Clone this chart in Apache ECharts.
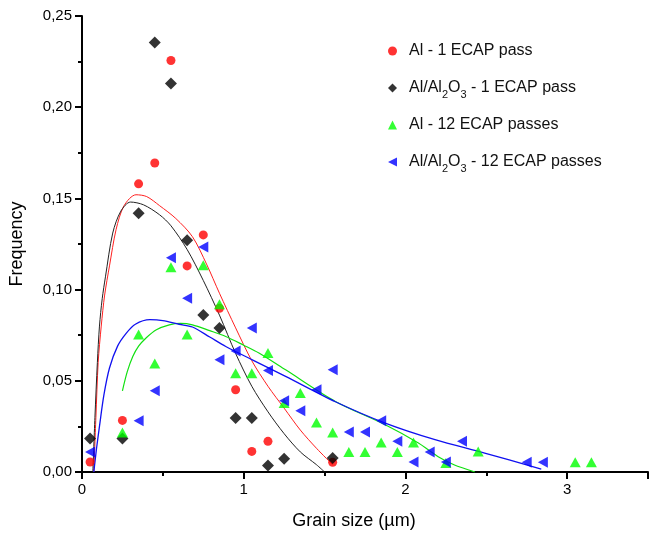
<!DOCTYPE html>
<html>
<head>
<meta charset="utf-8">
<script src="https://cdn.jsdelivr.net/npm/echarts@6/dist/echarts.min.js"></script>
<style>
html,body{margin:0;padding:0;background:#fff;}
#chart{width:651px;height:536px;}
</style>
</head>
<body>
<div id="chart"></div>
<script>
// ---- Data ----
var seriesNames = ['Al - 1 ECAP pass', 'Al/Al2O3 - 1 ECAP pass', 'Al - 12 ECAP passes', 'Al/Al2O3 - 12 ECAP passes'];

var alOnePass = [[0.05,0.0055],[0.25,0.0283],[0.35,0.158],[0.45,0.1694],[0.55,0.2256],[0.65,0.113],[0.75,0.130],[0.85,0.0898],[0.95,0.0451],[1.05,0.0113],[1.15,0.0168],[1.55,0.0053]];
var compositeOnePass = [[0.05,0.0184],[0.25,0.0184],[0.35,0.1418],[0.45,0.2355],[0.55,0.213],[0.65,0.127],[0.75,0.0861],[0.85,0.079],[0.95,0.0296],[1.05,0.0296],[1.15,0.0036],[1.25,0.0073],[1.55,0.0077]];
var alTwelvePasses = [[0.25,0.0217],[0.35,0.0754],[0.45,0.0595],[0.55,0.1123],[0.65,0.0754],[0.75,0.1134],[0.85,0.092],[0.95,0.0542],[1.05,0.0542],[1.15,0.0652],[1.25,0.0378],[1.35,0.0433],[1.45,0.0272],[1.55,0.0217],[1.65,0.011],[1.75,0.011],[1.85,0.0162],[1.95,0.011],[2.05,0.0162],[2.25,0.005],[2.45,0.0113],[3.05,0.0053],[3.15,0.0053]];
var compositeTwelvePasses = [[0.05,0.011],[0.35,0.0281],[0.45,0.0445],[0.55,0.1175],[0.65,0.0953],[0.75,0.1234],[0.85,0.0615],[0.95,0.0664],[1.05,0.0789],[1.15,0.0556],[1.25,0.039],[1.35,0.0336],[1.45,0.0451],[1.55,0.056],[1.65,0.0219],[1.75,0.0219],[1.85,0.0281],[1.95,0.0168],[2.05,0.0055],[2.15,0.011],[2.25,0.0055],[2.35,0.0168],[2.75,0.0053],[2.85,0.0053]];

// fitted curves
var fitAlOnePass = [[0.073,0],[0.086,0.03],[0.1,0.06],[0.119,0.08],[0.14,0.097],[0.17,0.113],[0.211,0.133],[0.26,0.146],[0.334,0.152],[0.4,0.151],[0.48,0.146],[0.58,0.139],[0.683,0.129],[0.77,0.114],[0.85,0.098],[0.95,0.079],[1.05,0.061],[1.15,0.047],[1.25,0.035],[1.35,0.023],[1.45,0.013],[1.55,0.004]];
var fitCompositeOnePass = [[0.067,0],[0.08,0.03],[0.095,0.06],[0.108,0.08],[0.125,0.095],[0.145,0.107],[0.19,0.131],[0.24,0.143],[0.3,0.148],[0.38,0.1465],[0.48,0.141],[0.55,0.135],[0.65,0.122],[0.75,0.105],[0.85,0.086],[0.95,0.065],[1.05,0.047],[1.15,0.033],[1.25,0.021],[1.35,0.011],[1.45,0.004],[1.5,0]];
var fitAlTwelvePasses = [[0.25,0.0445],[0.28,0.055],[0.314,0.0633],[0.35,0.069],[0.396,0.0735],[0.46,0.078],[0.54,0.0807],[0.61,0.0815],[0.683,0.0807],[0.79,0.0775],[0.889,0.0743],[1.0,0.0695],[1.094,0.0652],[1.259,0.056],[1.567,0.0387],[1.875,0.0259],[2.08,0.0159],[2.2,0.0085],[2.3,0.004],[2.43,0]];
var fitCompositeTwelvePasses = [[0.073,0],[0.09,0.013],[0.108,0.025],[0.135,0.042],[0.17,0.057],[0.22,0.069],[0.273,0.076],[0.33,0.081],[0.42,0.0835],[0.5,0.083],[0.6,0.081],[0.683,0.0795],[0.79,0.074],[0.889,0.0688],[1.053,0.0615],[1.259,0.0524],[1.567,0.0385],[1.875,0.0268],[2.183,0.0177],[2.49,0.0104],[2.84,0.0016]];

var xAxisRange = [0, 3.5];
var yAxisRange = [0, 0.25];

// ---- Chart ----
var chart = echarts.init(document.getElementById('chart'), null, {renderer: 'canvas'});
var FONT = 'Liberation Sans, Arial, Helvetica, sans-serif';
var leftArrow = 'path://M10,0 L10,10 L0,5 Z';
var colors = ['#ff0000', '#000000', '#00ff00', '#0000ff'];

function legendLabel(name) {
  return name.replace('Al2O3', 'Al{sub|2}O{sub|3}');
}

function fitLine(data, color, width) {
  return {
    type: 'line', data: data, smooth: 0.3, showSymbol: false, symbol: 'none',
    lineStyle: {color: color, width: width}, z: 2, silent: true
  };
}

var option = {
  backgroundColor: '#ffffff',
  animation: false,
  grid: {left: 82, right: 1, top: 16, bottom: 64, containLabel: false},
  legend: {
    orient: 'vertical', left: 383, top: 34, itemGap: 13,
    itemWidth: 9, itemHeight: 9,
    formatter: legendLabel,
    textStyle: {
      fontFamily: FONT, fontSize: 16, color: '#111', lineHeight: 24, padding: [0, 0, 0, 7],
      rich: {sub: {fontFamily: FONT, fontSize: 11, color: '#111', lineHeight: 24, verticalAlign: 'bottom'}}
    },
    data: [
      {name: seriesNames[0], icon: 'circle'},
      {name: seriesNames[1], icon: 'diamond'},
      {name: seriesNames[2], icon: 'triangle'},
      {name: seriesNames[3], icon: leftArrow}
    ]
  },
  xAxis: {
    type: 'value', min: xAxisRange[0], max: xAxisRange[1], interval: 1,
    name: 'Grain size (\u00b5m)', nameLocation: 'middle', nameGap: 40,
    nameTextStyle: {fontFamily: FONT, fontSize: 18, color: '#000', padding: [0, 22, 0, 0]},
    axisLine: {show: true, lineStyle: {color: '#000', width: 2}},
    axisTick: {show: true, inside: false, length: 7, lineStyle: {color: '#000', width: 2}},
    minorTick: {show: true, splitNumber: 2, length: 4, lineStyle: {color: '#000', width: 2}},
    splitLine: {show: false},
    axisLabel: {
      fontFamily: FONT, fontSize: 15, color: '#000', margin: 10,
      formatter: function (v) { return Number.isInteger(v) ? String(v) : ''; }
    }
  },
  yAxis: {
    type: 'value', min: yAxisRange[0], max: yAxisRange[1], interval: 0.05,
    name: 'Frequency', nameLocation: 'middle', nameGap: 56,
    nameTextStyle: {fontFamily: FONT, fontSize: 18, color: '#000'},
    axisLine: {show: true, lineStyle: {color: '#000', width: 2}},
    axisTick: {show: true, inside: false, length: 7, lineStyle: {color: '#000', width: 2}},
    minorTick: {show: true, splitNumber: 2, length: 4, lineStyle: {color: '#000', width: 2}},
    splitLine: {show: false},
    axisLabel: {
      fontFamily: FONT, fontSize: 15, color: '#000', margin: 10,
      formatter: function (v) { return v.toFixed(2).replace('.', ','); }
    }
  },
  series: [
    fitLine(fitAlOnePass, '#ff2020', 1),
    fitLine(fitCompositeOnePass, '#222222', 1),
    fitLine(fitAlTwelvePasses, '#10e010', 1.2),
    fitLine(fitCompositeTwelvePasses, '#1010f0', 1.3),
    {name: seriesNames[0], type: 'scatter', data: alOnePass, symbol: 'circle', symbolSize: 9, itemStyle: {color: colors[0]}, z: 5},
    {name: seriesNames[1], type: 'scatter', data: compositeOnePass, symbol: 'diamond', symbolSize: 12, itemStyle: {color: colors[1]}, z: 5},
    {name: seriesNames[2], type: 'scatter', data: alTwelvePasses, symbol: 'triangle', symbolSize: [11, 10], itemStyle: {color: colors[2]}, z: 5},
    {name: seriesNames[3], type: 'scatter', data: compositeTwelvePasses, symbol: leftArrow, symbolSize: [10, 11], itemStyle: {color: colors[3]}, z: 5}
  ]
};
chart.setOption(option);
</script>
</body>
</html>
